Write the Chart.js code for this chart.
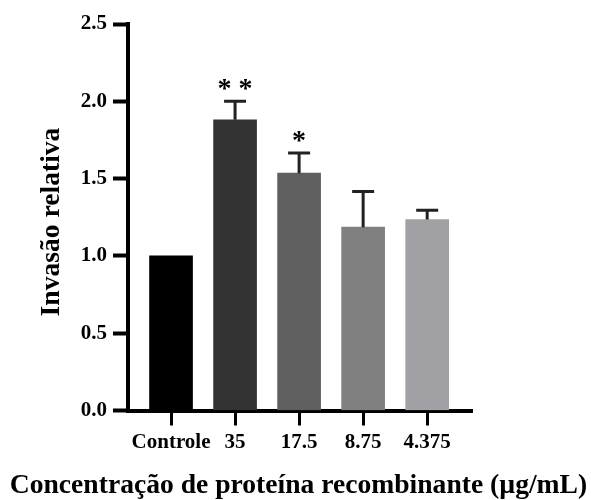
<!DOCTYPE html>
<html>
<head>
<meta charset="utf-8">
<script src="https://cdn.jsdelivr.net/npm/chart.js@4/dist/chart.umd.min.js"></script>
<style>
	html, body { margin: 0; padding: 0; background: #fff; }
	#wrap { width: 591px; height: 500px; }
</style>
</head>
<body>
<div id="wrap"><canvas id="myChart" width="591" height="500"></canvas></div>
<script>
const categories = ["Controle", "35", "17.5", "8.75", "4.375"];
const invasion = [1.0, 1.88, 1.535, 1.186, 1.235];
const errors = [0, 0.12, 0.13, 0.23, 0.06];
const stars = ["", "* *", "*", "", ""];
const barColors = ["#000000", "#333333", "#5f5f5f", "#808080", "#a1a1a5"];
const yTicks = [0, 0.5, 1.0, 1.5, 2.0, 2.5];
const xTitle = "Concentração de proteína recombinante (µg/mL)";
const yTitle = "Invasão relativa";

const serif = "'Liberation Serif', 'Times New Roman', serif";

// upward error bars + significance stars
const errorBars = {
	id: "errorBars",
	afterDatasetsDraw(chart) {
		const ctx = chart.ctx;
		const y = chart.scales.y;
		const meta = chart.getDatasetMeta(0);
		ctx.save();
		meta.data.forEach((bar, i) => {
			let top = y.getPixelForValue(invasion[i] + errors[i]);
			if (errors[i] > 0) {
				ctx.strokeStyle = "#222";
				ctx.lineWidth = 3;
				ctx.beginPath();
				ctx.moveTo(bar.x, bar.y);
				ctx.lineTo(bar.x, top);
				ctx.moveTo(bar.x - 11, top);
				ctx.lineTo(bar.x + 11, top);
				ctx.stroke();
			}
			if (stars[i]) {
				ctx.font = "bold 28px " + serif;
				ctx.fillStyle = "#000";
				ctx.textAlign = "center";
				ctx.textBaseline = "alphabetic";
				const m = ctx.measureText(stars[i]);
				const cy = top - 17;
				const base = cy + (m.actualBoundingBoxAscent - m.actualBoundingBoxDescent) / 2;
				ctx.fillText(stars[i], bar.x, base);
			}
		});
		ctx.restore();
	},
};

// axis titles drawn by hand so the long x title is not squeezed
const axisTitles = {
	id: "axisTitles",
	afterDraw(chart) {
		const ctx = chart.ctx;
		const area = chart.chartArea;
		ctx.save();
		ctx.font = "bold 27.6px " + serif;
		ctx.fillStyle = "#000";
		ctx.textAlign = "center";
		ctx.textBaseline = "middle";
		ctx.fillText(xTitle, (area.left + area.right) / 2 - 1.5, 486);
		ctx.translate(52, 222);
		ctx.rotate(-Math.PI / 2);
		ctx.fillText(yTitle, 0, 0);
		ctx.restore();
	},
};

new Chart(document.getElementById("myChart"), {
	type: "bar",
	data: {
		datasets: [
			{
				data: categories.map((c, i) => ({ x: i, y: invasion[i] })),
				backgroundColor: barColors,
				borderWidth: 0,
				barThickness: 43,
			},
		],
	},
	options: {
		responsive: false,
		animation: false,
		layout: { padding: { top: 24, right: 119, left: 0, bottom: 0 } },
		plugins: { legend: { display: false }, tooltip: { enabled: false } },
		scales: {
			x: {
				type: "linear",
				min: -0.672,
				max: 4.7,
				offset: false,
				afterFit: (s) => { s.height = 89.5; },
				afterBuildTicks: (s) => { s.ticks = categories.map((c, i) => ({ value: i })); },
				border: { color: "#000", width: 4 },
				grid: { offset: false, drawOnChartArea: false, drawTicks: true, tickLength: 15, tickWidth: 3, tickColor: "#000" },
				ticks: {
					callback: (v) => categories[v],
					color: "#000",
					font: { family: serif, size: 21, weight: "bold" },
					padding: 4,
					maxRotation: 0,
					autoSkip: false,
				},
			},
			y: {
				min: 0,
				max: 2.5,
				afterFit: (s) => { s.width = 128; },
				afterBuildTicks: (s) => { s.ticks = yTicks.map((v) => ({ value: v })); },
				border: { color: "#000", width: 4 },
				grid: { drawOnChartArea: false, drawTicks: true, tickLength: 15, tickWidth: 4, tickColor: "#000" },
				ticks: {
					callback: (v) => v.toFixed(1),
					color: "#000",
					font: { family: serif, size: 21, weight: "bold" },
					padding: 6,
				},
			},
		},
	},
	plugins: [errorBars, axisTitles],
});
</script>
</body>
</html>
